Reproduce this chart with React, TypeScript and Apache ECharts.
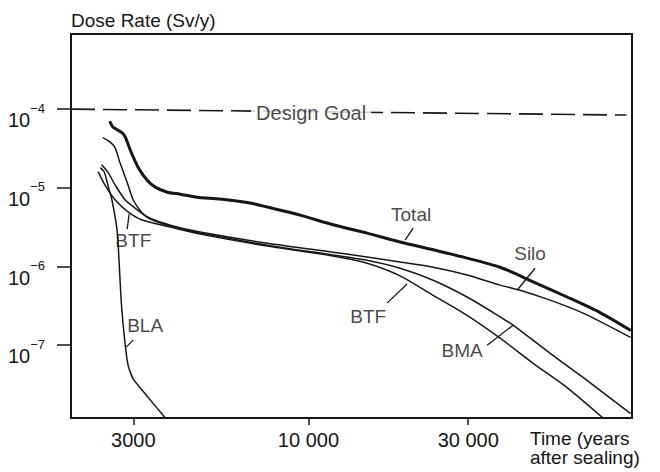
import React, { useEffect, useRef } from 'react';
import * as echarts from 'echarts';

// Axis ticks
const xTicks = [3000, 10000, 30000];
const yTicks = [1e-4, 1e-5, 1e-6, 1e-7];

// Series: [time (years after sealing), dose rate (Sv/y)]
const designGoal = [[1955, 1.0e-4], [89000, 8.4e-5]];

const total = [
  [2560, 6.8e-5], [2610, 5.9e-5], [2780, 5.0e-5], [2840, 4.4e-5], [2940, 3.0e-5],
  [3100, 1.83e-5], [3300, 1.25e-5], [3490, 1.02e-5], [3790, 8.8e-6], [4140, 8.3e-6],
  [4650, 7.6e-6], [5450, 7.2e-6], [6700, 6.4e-6], [7530, 5.7e-6], [9450, 4.5e-6],
  [11850, 3.4e-6], [14970, 2.66e-6], [18780, 2.05e-6], [23570, 1.63e-6], [29770, 1.28e-6],
  [37350, 9.8e-7], [46850, 6.4e-7], [59190, 4.1e-7], [74250, 2.6e-7], [91270, 1.56e-7],
];

const silo = [
  [2440, 4.3e-5], [2560, 3.8e-5], [2650, 3.2e-5], [2740, 2.06e-5], [2880, 1.15e-5],
  [3000, 7.0e-6], [3190, 4.8e-6], [3370, 4.1e-6], [3870, 3.36e-6], [4750, 2.74e-6],
  [7530, 1.98e-6], [11850, 1.52e-6], [14970, 1.32e-6], [18780, 1.14e-6], [23570, 9.8e-7],
  [29770, 7.8e-7], [37350, 5.8e-7], [42840, 5.0e-7], [52670, 3.74e-7], [66070, 2.56e-7],
  [91270, 1.27e-7],
];

const bma = [
  [2420, 1.94e-5], [2520, 1.58e-5], [2650, 1.08e-5], [2840, 7.0e-6], [3150, 4.9e-6],
  [3370, 4.0e-6], [3870, 3.26e-6], [4750, 2.66e-6], [7530, 1.87e-6], [11850, 1.40e-6],
  [14970, 1.20e-6], [18780, 9.5e-7], [23570, 6.7e-7], [29770, 4.1e-7], [37350, 2.3e-7],
  [40840, 1.8e-7], [52670, 7.9e-8], [66070, 3.9e-8], [91270, 1.37e-8],
];

const btf = [
  [2360, 1.58e-5], [2470, 1.08e-5], [2650, 7.0e-6], [2900, 4.9e-6], [3190, 3.9e-6],
  [3870, 3.17e-6], [4750, 2.58e-6], [7530, 1.82e-6], [11850, 1.36e-6], [14970, 1.10e-6],
  [18780, 7.6e-7], [23570, 4.3e-7], [29770, 2.4e-7], [37350, 1.23e-7], [46850, 5.9e-8],
  [59190, 2.9e-8], [75800, 1.19e-8],
];

const bla = [
  [2400, 1.78e-5], [2460, 1.58e-5], [2520, 1.08e-5], [2590, 7.0e-6], [2670, 3.4e-6],
  [2700, 2.16e-6], [2760, 3.7e-7], [2840, 9.8e-8], [2900, 5.4e-8], [3000, 3.7e-8],
  [3300, 2.25e-8], [3740, 1.19e-8],
];

// Annotation labels (text, anchor in data units)
const labelTexts = ['Design Goal', 'Total', 'Silo', 'BTF', 'BMA', 'BTF', 'BLA'];
const labelAnchors = [
  [10190, 8.9e-5], [20260, 4.63e-6], [45900, 1.48e-6], [15080, 2.34e-7],
  [28760, 8.67e-8], [3000, 2.16e-6], [3255, 1.8e-7],
];

// Leader lines from labels to curves
const leaders = [
  [[19440, 2.16e-6], [20540, 3.08e-6]],
  [[41980, 5.0e-7], [47510, 9.5e-7]],
  [[40840, 1.8e-7], [34160, 1.0e-7]],
  [[19710, 6.0e-7], [17170, 3.43e-7]],
  [[2916, 4.63e-6], [2876, 2.98e-6]],
  [[2997, 1.16e-7], [2856, 9.46e-8]],
];

const X_MIN = 1955;
const X_MAX = 92500;
const Y_MIN = 1.19e-8;
const Y_MAX = 9.0e-4;

const FONT = '"Liberation Sans", Arial, Helvetica, sans-serif';
const INK = '#161616';

function fmtX(v: number) {
  const r = Math.round(v);
  if (r >= 10000) {
    const s = String(r);
    return s.slice(0, s.length - 3) + ' ' + s.slice(s.length - 3);
  }
  return String(r);
}

export default function App() {
  const ref = useRef<HTMLDivElement>(null);

  useEffect(() => {
    const chart = echarts.init(ref.current as HTMLDivElement, undefined, { renderer: 'svg' });

    const curve = (name: string, data: number[][], width: number, smooth: number) => ({
      type: 'line',
      name,
      data,
      symbol: 'none',
      showSymbol: false,
      smooth,
      silent: true,
      z: 3,
      lineStyle: { color: INK, width, cap: 'round', join: 'round' },
    });

    const leaderSeries = leaders.map((d, i) => ({
      type: 'line',
      name: 'leader' + i,
      data: d,
      symbol: 'none',
      silent: true,
      z: 3,
      lineStyle: { color: INK, width: 1.3 },
    }));

    const labelData = labelTexts.map((t, i) => {
      const item: any = { name: t, value: labelAnchors[i] };
      if (t === 'Design Goal') {
        item.label = { backgroundColor: '#ffffff', padding: [2, 5], fontSize: 20 };
      }
      return item;
    });

    chart.setOption({
      animation: false,
      backgroundColor: '#ffffff',
      textStyle: { fontFamily: FONT, color: INK },
      grid: {
        left: 71,
        right: 28,
        top: 34,
        bottom: 54,
        show: true,
        borderColor: INK,
        borderWidth: 2,
        containLabel: false,
        outerBoundsMode: 'none',
      },
      xAxis: {
        type: 'log',
        min: X_MIN,
        max: X_MAX,
        axisLine: { show: false },
        splitLine: { show: false },
        minorTick: { show: false },
        axisTick: {
          show: true,
          inside: false,
          length: 7,
          customValues: xTicks,
          lineStyle: { color: INK, width: 1.5 },
        },
        axisLabel: {
          show: true,
          customValues: xTicks,
          formatter: (v: number) => fmtX(v),
          margin: 12,
          fontSize: 20,
          fontFamily: FONT,
          color: INK,
        },
      },
      yAxis: {
        type: 'log',
        min: Y_MIN,
        max: Y_MAX,
        axisLine: { show: false },
        splitLine: { show: false },
        minorTick: { show: false },
        axisTick: {
          show: true,
          inside: false,
          length: 14,
          customValues: yTicks,
          lineStyle: { color: INK, width: 1.5 },
        },
        axisLabel: {
          show: true,
          customValues: yTicks,
          margin: 26,
          formatter: (v: number) => '{b|10}{s|\u2212' + Math.round(-Math.log10(v)) + '}',
          rich: {
            b: { fontSize: 20, fontFamily: FONT, color: INK, padding: [22, 0, 0, 0] },
            s: { fontSize: 13, fontFamily: FONT, color: INK, padding: [0, 0, 2, 0] },
          },
        },
      },
      graphic: [
        {
          type: 'text',
          left: 71,
          top: 11,
          style: { text: 'Dose Rate (Sv/y)', font: '19px ' + FONT, fill: INK },
        },
        {
          type: 'text',
          left: 530,
          top: 429,
          style: { text: 'Time (years', font: '19px ' + FONT, fill: INK },
        },
        {
          type: 'text',
          left: 530,
          top: 448,
          style: { text: 'after sealing)', font: '19px ' + FONT, fill: INK },
        },
      ],
      series: [
        {
          type: 'line',
          name: 'Design Goal',
          data: designGoal,
          symbol: 'none',
          silent: true,
          z: 2,
          lineStyle: { color: INK, width: 1.6, type: [24, 8] },
        },
        curve('Total', total, 3, 0.25),
        curve('Silo', silo, 1.5, 0.25),
        curve('BMA', bma, 1.5, 0.25),
        curve('BTF', btf, 1.5, 0.25),
        curve('BLA', bla, 1.5, 0.15),
        ...leaderSeries,
        {
          type: 'scatter',
          name: 'labels',
          data: labelData,
          symbolSize: 1,
          silent: true,
          z: 6,
          itemStyle: { color: 'rgba(0,0,0,0)' },
          label: {
            show: true,
            position: 'inside',
            formatter: '{b}',
            fontSize: 19,
            fontFamily: FONT,
            color: INK,
          },
        },
      ],
    });

    return () => chart.dispose();
  }, []);

  return (
    <div
      ref={ref}
      style={{ position: 'fixed', left: 0, top: 0, width: 660, height: 472, background: '#fff' }}
    />
  );
}
